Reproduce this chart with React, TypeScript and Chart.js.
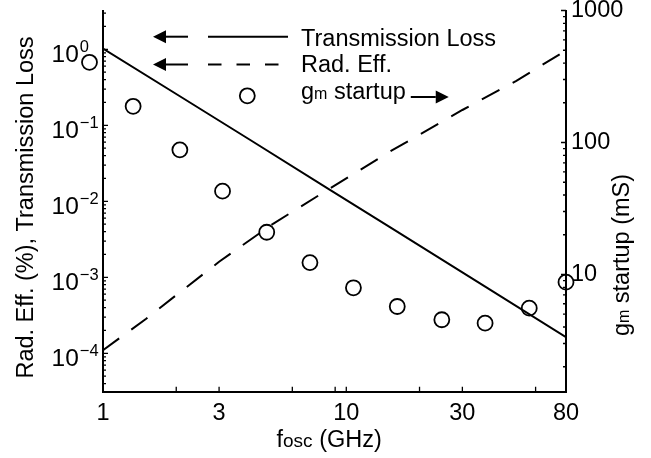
import React, { useEffect, useRef } from 'react';
import { Chart, registerables } from 'chart.js';

Chart.register(...registerables);

// ---- data ----
const tlFreq = [1, 2.07, 4, 8.57, 15.4, 37.8, 80];
const tlValues = [1.02, 0.241, 0.065, 0.0141, 0.0044, 7.3e-4, 1.63e-4];

const reFreq = [1, 1.5, 2, 3, 5, 8, 15, 30, 50, 80];
const reValues = [1.1e-4, 2.83e-4, 5.83e-4, 1.6e-3, 5.06e-3, 0.0129, 0.0445, 0.159, 0.385, 0.967];

const gmFreq = [0.88, 1.33, 2.07, 3.1, 4.71, 7.09, 10.7, 16.2, 24.7, 37.2, 56.5, 80];
const gmValues = [405, 188, 88, 42.8, 20.9, 12.3, 7.93, 5.72, 4.54, 4.28, 5.56, 8.75];

const xTickLabels = [1, 3, 10, 30, 80];
const xMinorTicks = [2, 6, 9, 20, 60];
const leftExponents = [0, -1, -2, -3, -4];
const rightTickLabels = [10, 100, 1000];

const legendLabels = ['Transmission Loss', 'Rad. Eff.', 'startup'];

const FONT = '"Liberation Sans", Arial, Helvetica, sans-serif';
const FS = 23.5;
const FS_SMALL = 16;

type Part = [string, number];

function measureParts(ctx: CanvasRenderingContext2D, parts: Part[]) {
  let w = 0;
  for (const [t, s] of parts) {
    ctx.font = `${s}px ${FONT}`;
    w += ctx.measureText(t).width;
  }
  return w;
}

function drawParts(ctx: CanvasRenderingContext2D, parts: Part[], x: number, y: number) {
  let cx = x;
  for (const [t, s] of parts) {
    ctx.font = `${s}px ${FONT}`;
    ctx.fillText(t, cx, y);
    cx += ctx.measureText(t).width;
  }
  return cx;
}

function arrow(ctx: CanvasRenderingContext2D, x0: number, x1: number, y: number) {
  const dir = x1 > x0 ? 1 : -1;
  const headLen = 13;
  const half = 6.5;
  ctx.beginPath();
  ctx.moveTo(x0, y);
  ctx.lineTo(x1 - dir * headLen, y);
  ctx.lineWidth = 2;
  ctx.stroke();
  ctx.beginPath();
  ctx.moveTo(x1, y);
  ctx.lineTo(x1 - dir * headLen, y - half);
  ctx.lineTo(x1 - dir * headLen, y + half);
  ctx.closePath();
  ctx.fill();
}

// let the markers of the gm dataset be drawn outside the plot frame (as in the reference)
const widenPlugin = {
  id: 'widen',
  beforeDatasetDraw(chart: any, args: any) {
    if (args.index !== 2) return;
    const a = chart.chartArea;
    chart.$savedArea = a;
    chart.chartArea = {
      left: a.left - 40,
      right: a.right + 40,
      top: a.top - 40,
      bottom: a.bottom + 40,
      width: a.width + 80,
      height: a.height + 80,
    };
  },
  afterDatasetDraw(chart: any, args: any) {
    if (args.index !== 2) return;
    if (chart.$savedArea) chart.chartArea = chart.$savedArea;
  },
};

const decorPlugin = {
  id: 'decor',
  afterDraw(chart: any) {
    const ctx: CanvasRenderingContext2D = chart.ctx;
    const { left, right, bottom } = chart.chartArea;
    const xs = chart.scales.x;
    const ys = chart.scales.y;
    const y2 = chart.scales.y2;
    ctx.save();
    ctx.strokeStyle = '#000';
    ctx.fillStyle = '#000';

    // inward tick marks
    ctx.lineWidth = 1.3;
    ctx.beginPath();
    for (const v of [...xTickLabels, ...xMinorTicks]) {
      if (v <= xs.min || v >= xs.max) continue;
      const px = xs.getPixelForValue(v);
      ctx.moveTo(px, bottom);
      ctx.lineTo(px, bottom - 5);
    }
    for (let e = -5; e <= 0; e++) {
      for (let m = 1; m <= 9; m++) {
        const v = m * Math.pow(10, e);
        if (v <= ys.min || v >= ys.max) continue;
        const py = ys.getPixelForValue(v);
        ctx.moveTo(left, py);
        ctx.lineTo(left + (m === 1 ? 5 : 3), py);
      }
    }
    for (let e = 0; e <= 3; e++) {
      for (let m = 1; m <= 9; m++) {
        const v = m * Math.pow(10, e);
        if (v <= y2.min || v > y2.max) continue;
        const py = y2.getPixelForValue(v);
        ctx.moveTo(right, py);
        ctx.lineTo(right - (m === 1 ? 5 : 3), py);
      }
    }
    ctx.stroke();

    // left tick labels 10^n
    ctx.textAlign = 'left';
    ctx.textBaseline = 'alphabetic';
    for (const e of leftExponents) {
      const py = ys.getPixelForValue(Math.pow(10, e));
      ctx.font = `24.5px ${FONT}`;
      ctx.fillText('10', 51.5, py + 12.3);
      const w = ctx.measureText('10').width;
      ctx.font = `16.5px ${FONT}`;
      ctx.fillText(e === 0 ? '0' : '\u2212' + String(-e), 51.5 + w + 1, py + 2.5);
    }

    // left axis title
    ctx.save();
    ctx.translate(33.3, 207.5);
    ctx.rotate(-Math.PI / 2);
    ctx.textAlign = 'center';
    ctx.font = `${FS}px ${FONT}`;
    ctx.fillText('Rad. Eff. (%), Transmission Loss', 0, 0);
    ctx.restore();

    // right axis title
    const rParts: Part[] = [['g', FS], ['m', FS_SMALL], [' startup (mS)', FS]];
    const rw = measureParts(ctx, rParts);
    ctx.save();
    ctx.translate(629.3, 255);
    ctx.rotate(-Math.PI / 2);
    drawParts(ctx, rParts, -rw / 2, 0);
    ctx.restore();

    // x axis title
    drawParts(ctx, [['f', FS], ['osc', 19], [' (GHz)', FS]], 276.5, 446.7);

    // legend
    arrow(ctx, 188, 153, 36.7);
    arrow(ctx, 188, 153, 64.5);
    ctx.lineWidth = 2;
    ctx.beginPath();
    ctx.moveTo(208, 36.7);
    ctx.lineTo(288, 36.7);
    ctx.stroke();
    ctx.setLineDash([13.5, 15]);
    ctx.beginPath();
    ctx.moveTo(208, 64.5);
    ctx.lineTo(288, 64.5);
    ctx.stroke();
    ctx.setLineDash([]);
    ctx.lineWidth = 1.8;
    ctx.beginPath();
    ctx.arc(247.3, 95.8, 7.5, 0, Math.PI * 2);
    ctx.stroke();

    ctx.font = `${FS}px ${FONT}`;
    ctx.fillText(legendLabels[0], 301, 45.7);
    ctx.fillText(legendLabels[1], 301, 72);
    const endX = drawParts(ctx, [['g', FS], ['m', FS_SMALL], [' ' + legendLabels[2], FS]], 301, 99);
    arrow(ctx, endX + 5, endX + 43, 97);

    ctx.restore();
  },
};

export default function App() {
  const ref = useRef<HTMLCanvasElement | null>(null);

  useEffect(() => {
    if (!ref.current) return;
    const zeroPad = (s: any) => {
      s.paddingTop = 0;
      s.paddingBottom = 0;
      s.paddingLeft = 0;
      s.paddingRight = 0;
    };
    const chart = new Chart(ref.current, {
      type: 'line',
      data: {
        datasets: [
          {
            label: 'Transmission Loss',
            data: tlFreq.map((x, i) => ({ x, y: tlValues[i] })),
            borderColor: '#000',
            borderWidth: 2,
            pointRadius: 0,
            fill: false,
            tension: 0,
            xAxisID: 'x',
            yAxisID: 'y',
          },
          {
            label: 'Rad. Eff.',
            data: reFreq.map((x, i) => ({ x, y: reValues[i] })),
            borderColor: '#000',
            borderWidth: 2,
            borderDash: [20, 15],
            pointRadius: 0,
            fill: false,
            tension: 0,
            xAxisID: 'x',
            yAxisID: 'y',
          },
          {
            label: 'gm startup',
            data: gmFreq.map((x, i) => ({ x, y: gmValues[i] })),
            showLine: false,
            pointRadius: 7.5,
            pointBorderWidth: 1.8,
            pointBorderColor: '#000',
            pointBackgroundColor: 'rgba(0,0,0,0)',
            borderColor: '#000',
            clip: false,
            xAxisID: 'x',
            yAxisID: 'y2',
          } as any,
        ],
      },
      options: {
        responsive: false,
        animation: false,
        events: [],
        layout: { padding: { top: 10.5, left: 0, right: 0, bottom: 0 } },
        plugins: {
          legend: { display: false },
          tooltip: { enabled: false },
        },
        scales: {
          x: {
            type: 'logarithmic',
            position: 'bottom',
            min: 1,
            max: 80,
            grid: { display: false, drawTicks: false },
            border: { display: true, color: '#000', width: 2 },
            afterBuildTicks: (s: any) => {
              s.ticks = xTickLabels.map((v) => ({ value: v }));
            },
            afterFit: (s: any) => {
              s.height = 66.3;
              zeroPad(s);
            },
            ticks: {
              autoSkip: false,
              maxRotation: 0,
              minRotation: 0,
              padding: 7.5,
              color: '#000',
              font: { family: FONT, size: FS },
              callback: (v: any) => String(v),
            },
          },
          y: {
            type: 'logarithmic',
            position: 'left',
            min: Math.pow(10, -4.505),
            max: Math.pow(10, 0.5105),
            grid: { display: false, drawTicks: false },
            border: { display: true, color: '#000', width: 2 },
            ticks: { display: false },
            afterFit: (s: any) => {
              s.width = 103;
              zeroPad(s);
            },
          },
          y2: {
            type: 'logarithmic',
            position: 'right',
            min: Math.pow(10, 0.112),
            max: 1000,
            grid: { display: false, drawTicks: false },
            border: { display: true, color: '#000', width: 2 },
            afterBuildTicks: (s: any) => {
              s.ticks = rightTickLabels.map((v) => ({ value: v }));
            },
            afterFit: (s: any) => {
              s.width = 85;
              zeroPad(s);
            },
            ticks: {
              autoSkip: false,
              padding: 5,
              color: '#000',
              font: { family: FONT, size: FS },
              callback: (v: any) => String(v),
            },
          },
        },
      } as any,
      plugins: [widenPlugin, decorPlugin],
    });
    return () => chart.destroy();
  }, []);

  return (
    <div style={{ position: 'absolute', left: 0, top: 0, width: 651, height: 458, background: '#fff' }}>
      <canvas ref={ref} width={651} height={458} />
    </div>
  );
}
